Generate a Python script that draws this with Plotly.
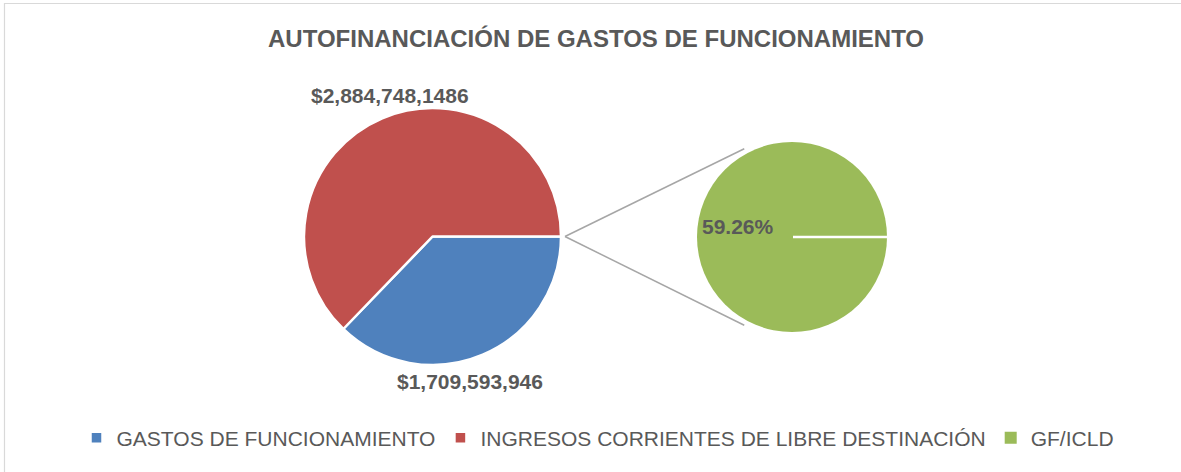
import math
import plotly.graph_objects as go

# ---- data ----
main_labels = ["GASTOS DE FUNCIONAMIENTO", "INGRESOS CORRIENTES DE LIBRE DESTINACIÓN"]
main_values = [1709593946, 2884748148.6]
main_texts = ["$1,709,593,946", "$2,884,748,1486"]
main_colors = ["#4F81BD", "#C0504D"]

sub_labels = ["GF/ICLD"]
sub_values = [59.26]
sub_texts = ["59.26%"]
sub_colors = ["#9BBB59"]

title_text = "AUTOFINANCIACIÓN DE GASTOS DE FUNCIONAMIENTO"

# ---- geometry (pixels) ----
W, H = 1181, 472
main_c = (432.5, 236.5)
main_r = 128.5
sub_c = (792, 237)
sub_r = 95


def px(x):
    return x / W


def py(y):
    return 1 - y / H


def dom(c, r):
    return dict(x=[px(c[0] - r), px(c[0] + r)], y=[py(c[1] + r), py(c[1] - r)])


TXT = "#595959"
FONT = "Liberation Sans, Arial, sans-serif"

fig = go.Figure()
fig.add_trace(go.Pie(
    labels=main_labels, values=main_values, sort=False, direction="clockwise",
    rotation=90, textinfo="none", hoverinfo="label+value",
    marker=dict(colors=main_colors, line=dict(color="white", width=2.5)),
    domain=dom(main_c, main_r), showlegend=True,
))
fig.add_trace(go.Pie(
    labels=sub_labels, values=sub_values, sort=False, direction="clockwise",
    rotation=90, textinfo="none", hoverinfo="label+text", text=sub_texts,
    marker=dict(colors=sub_colors, line=dict(color="white", width=0)),
    domain=dom(sub_c, sub_r), showlegend=True,
))

# connector lines (from main pie edge towards the sub pie)
apex = (main_c[0] + main_r + 4, main_c[1])
d = sub_c[0] - apex[0]
th = math.acos(sub_r / d)
tx = sub_c[0] - sub_r * math.cos(th) - 8
ty_off = sub_r * math.sin(th) + 2
shapes = []
for s in (-1, 1):
    shapes.append(dict(type="line", xref="paper", yref="paper", layer="below",
                       x0=px(apex[0]), y0=py(apex[1]),
                       x1=px(tx), y1=py(sub_c[1] + s * ty_off),
                       line=dict(color="#A6A6A6", width=1.5)))
# white separator on the second pie
shapes.append(dict(type="line", xref="paper", yref="paper",
                   x0=px(sub_c[0] + 1), y0=py(sub_c[1]),
                   x1=px(sub_c[0] + sub_r + 1), y1=py(sub_c[1]),
                   line=dict(color="white", width=2.5)))
# chart border
shapes.append(dict(type="rect", xref="paper", yref="paper",
                   x0=px(4.5), y0=py(3.5), x1=1.02, y1=-0.02,
                   line=dict(color="#D9D9D9", width=1.2)))


def ann(text, x, y, size):
    return dict(text=f"<b>{text}</b>", x=px(x), y=py(y), xref="paper", yref="paper",
                xanchor="center", yanchor="middle", showarrow=False,
                font=dict(size=size, color=TXT, family=FONT))


annotations = [
    ann(title_text, 596, 38, 24),
    ann(main_texts[1], main_c[0] - 43, main_c[1] - main_r - 13, 21),
    ann(main_texts[0], main_c[0] + 38, main_c[1] + main_r + 16, 21),
    ann(sub_texts[0], sub_c[0] - 54, sub_c[1] - 10, 21),
]

fig.update_layout(
    width=W, height=H,
    margin=dict(l=0, r=0, t=0, b=0),
    paper_bgcolor="white", plot_bgcolor="white",
    shapes=shapes, annotations=annotations,
    font=dict(family=FONT, color=TXT),
    legend=dict(orientation="h", x=px(598), xanchor="center", y=py(438), yanchor="middle",
                font=dict(size=21, color=TXT, family=FONT),
                traceorder="normal"),
)

fig.write_html("out.html", config={"displayModeBar": False},
               post_script="document.body.style.margin='0';")
